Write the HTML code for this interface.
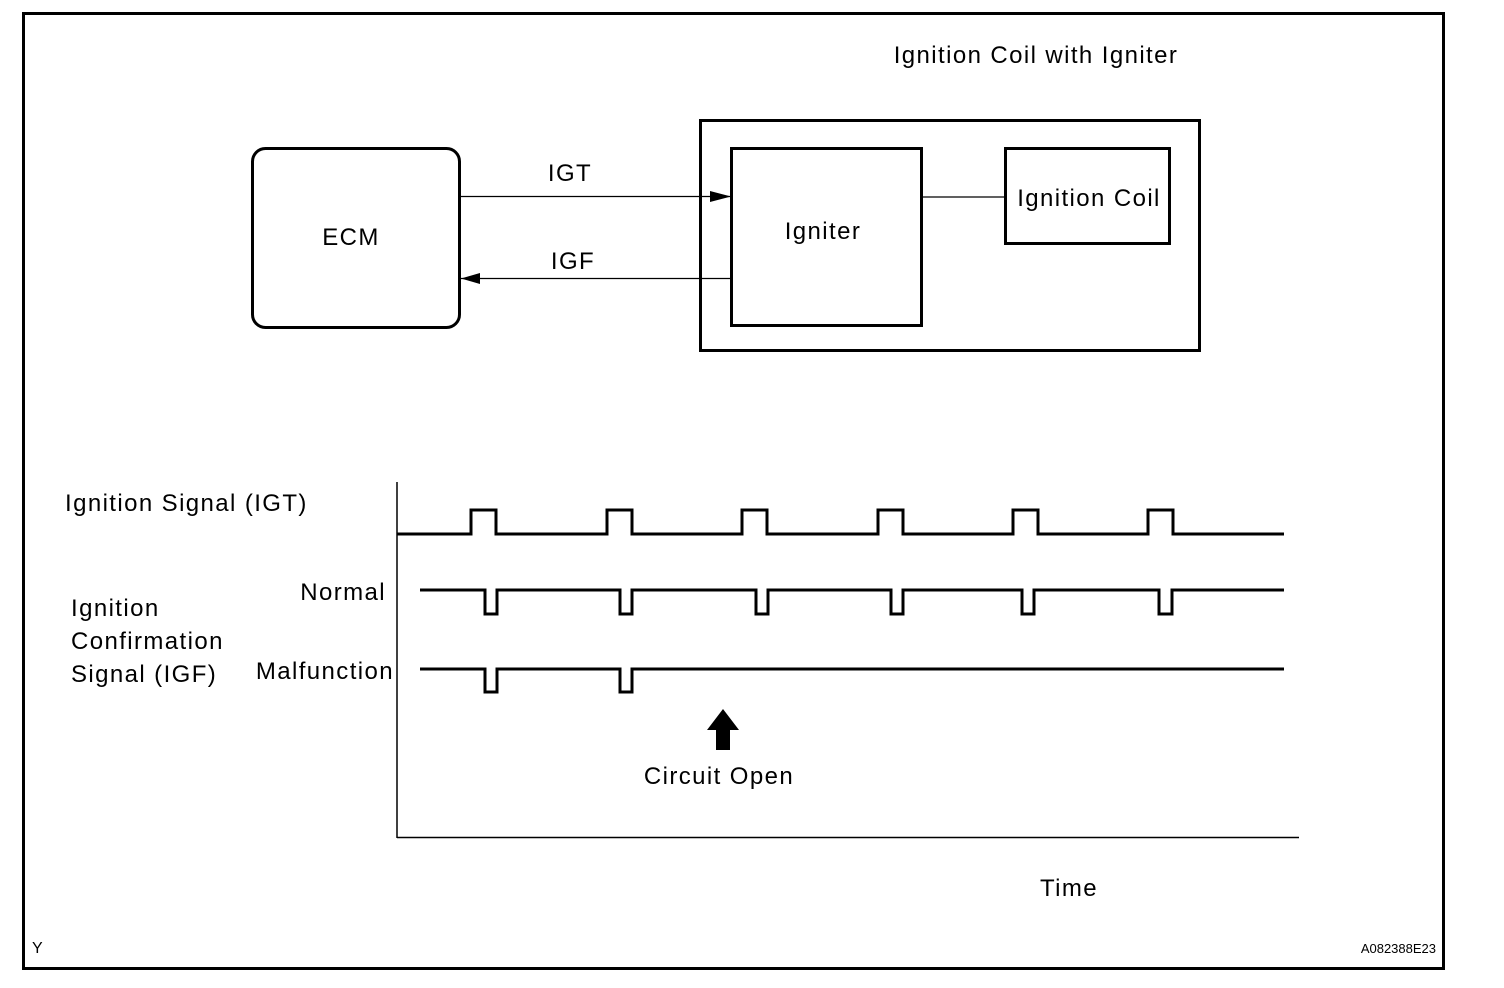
<!DOCTYPE html>
<html><head><meta charset="utf-8"><style>
html,body{margin:0;padding:0;background:#fff;}
svg{display:block;}
text{font-family:"Liberation Sans",Arial,sans-serif;fill:#000;letter-spacing:1.4px;}
</style></head><body>
<svg width="1504" height="988" viewBox="0 0 1504 988" xmlns="http://www.w3.org/2000/svg">
<rect x="0" y="0" width="1504" height="988" fill="#fff"/>
<rect x="23.5" y="13.5" width="1420" height="955" fill="none" stroke="#000" stroke-width="3"/>
<rect x="252.5" y="148.5" width="207" height="179" rx="13" fill="none" stroke="#000" stroke-width="3"/>
<text x="351" y="245" font-size="24" text-anchor="middle">ECM</text>
<rect x="700.5" y="120.5" width="499" height="230" fill="none" stroke="#000" stroke-width="3"/>
<rect x="731.5" y="148.5" width="190" height="177" fill="none" stroke="#000" stroke-width="3"/>
<text x="823" y="239" font-size="24" text-anchor="middle">Igniter</text>
<rect x="1005.5" y="148.5" width="164" height="95" fill="none" stroke="#000" stroke-width="3"/>
<text x="1089" y="206" font-size="24" text-anchor="middle">Ignition Coil</text>
<line x1="921" y1="197" x2="1005" y2="197" stroke="#000" stroke-width="1.2"/>
<text x="1036" y="63" font-size="24" text-anchor="middle">Ignition Coil with Igniter</text>
<line x1="460" y1="196.5" x2="731" y2="196.5" stroke="#000" stroke-width="1.2"/>
<polygon points="710,191 731,196.5 710,202" fill="#000"/>
<text x="570" y="181" font-size="24" text-anchor="middle">IGT</text>
<line x1="460" y1="278.5" x2="731" y2="278.5" stroke="#000" stroke-width="1.2"/>
<polygon points="461,278.5 480,273 480,284" fill="#000"/>
<text x="573" y="269" font-size="24" text-anchor="middle">IGF</text>
<line x1="397" y1="482" x2="397" y2="838" stroke="#000" stroke-width="1.5"/>
<line x1="397" y1="837.5" x2="1299" y2="837.5" stroke="#000" stroke-width="1.5"/>
<polyline fill="none" stroke="#000" stroke-width="3" points="397,534 471,534 471,510 496,510 496,534 607,534 607,510 632,510 632,534 742,534 742,510 767,510 767,534 878,534 878,510 903,510 903,534 1013,534 1013,510 1038,510 1038,534 1148,534 1148,510 1173,510 1173,534 1284,534"/>
<polyline fill="none" stroke="#000" stroke-width="3" points="420,590 485,590 485,614 497,614 497,590 620,590 620,614 632,614 632,590 756,590 756,614 768,614 768,590 891,590 891,614 903,614 903,590 1022,590 1022,614 1034,614 1034,590 1159,590 1159,614 1172,614 1172,590 1284,590"/>
<polyline fill="none" stroke="#000" stroke-width="3" points="420,669 485,669 485,692 497,692 497,669 620,669 620,692 632,692 632,669 1284,669"/>
<polygon points="723,709 739,730 730,730 730,750 716,750 716,730 707,730" fill="#000"/>
<text x="719" y="784" font-size="24" text-anchor="middle">Circuit Open</text>
<text x="65" y="511" font-size="24">Ignition Signal (IGT)</text>
<text x="71" y="616" font-size="24">Ignition</text>
<text x="71" y="649" font-size="24">Confirmation</text>
<text x="71" y="682" font-size="24">Signal (IGF)</text>
<text x="386" y="600" font-size="24" text-anchor="end">Normal</text>
<text x="394" y="679" font-size="24" text-anchor="end">Malfunction</text>
<text x="1069" y="896" font-size="24" text-anchor="middle">Time</text>
<text x="32" y="953" font-size="16" style="letter-spacing:0">Y</text>
<text x="1436" y="953" font-size="13" text-anchor="end" style="letter-spacing:0">A082388E23</text>
</svg>
</body></html>
